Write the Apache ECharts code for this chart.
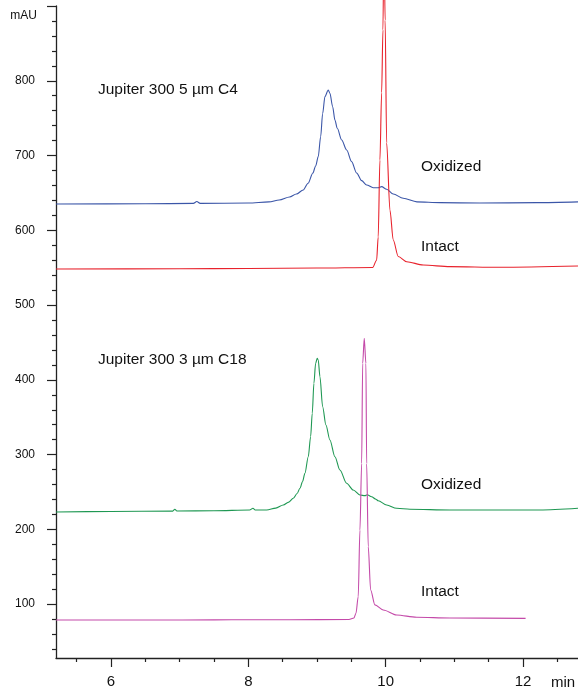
<!DOCTYPE html>
<html>
<head>
<meta charset="utf-8">
<title>Jupiter 300 chromatograms</title>
<script src="https://cdn.jsdelivr.net/npm/echarts@6/dist/echarts.min.js"></script>
<style>
  html, body { margin: 0; padding: 0; background: #fff; }
  #main { width: 578px; height: 691px; }
</style>
</head>
<body>
<div id="main"></div>
<script>
// retention time (min) / absorbance (mAU)

// Jupiter 300 5 um C4 - oxidized
var c4Oxidized = [
    [5.2, 635.2], [6.5, 635.5], [7.2, 636], [7.25, 638.5], [7.3, 636], [8.0, 636.5],
    [8.3, 638], [8.45, 640.5], [8.6, 644.6], [8.7, 648.5], [8.8, 654], [8.87, 663],
    [8.94, 676.7], [8.98, 686], [9.018, 698.5], [9.053, 725], [9.082, 756], [9.116, 779],
    [9.164, 787.7], [9.188, 783.3], [9.228, 765.3], [9.261, 747.5], [9.295, 736.4],
    [9.359, 720.8], [9.432, 707.4], [9.504, 691.8], [9.577, 676.7], [9.65, 666.4],
    [9.723, 660.6], [9.819, 657], [9.891, 657], [9.941, 658.4], [10.014, 654.9],
    [10.11, 648.6], [10.255, 642.8], [10.455, 638], [10.79, 637], [11.37, 636.5],
    [12.2, 637], [12.8, 638]
];

// Jupiter 300 5 um C4 - intact (peak runs off the top)
var c4Intact = [
    [5.2, 548.3], [7.0, 548.5], [8.0, 549], [9.0, 549.5], [9.81, 550.3], [9.868, 560],
    [9.891, 591], [9.916, 694], [9.941, 784], [9.96, 868], [9.975, 1000], [9.992, 881],
    [10.014, 717], [10.062, 627], [10.11, 587], [10.183, 565], [10.305, 558],
    [10.547, 553.6], [10.935, 551.4], [11.66, 550.6], [12.8, 552.3]
];

// Jupiter 300 3 um C18 - oxidized
var c18Oxidized = [
    [5.2, 223.3], [6.0, 224], [6.9, 224.5], [6.93, 227], [6.96, 224.6], [7.5, 225],
    [8.02, 225.9], [8.068, 228.2], [8.1, 226], [8.267, 225.9], [8.4, 228.5],
    [8.509, 232.6], [8.59, 236.5], [8.654, 241.6], [8.71, 248], [8.752, 255],
    [8.79, 264], [8.824, 275], [8.873, 297.2], [8.907, 324], [8.931, 355.3],
    [8.955, 395.4], [8.98, 422.1], [9.003, 428.8], [9.018, 426.6], [9.043, 404.2],
    [9.082, 364.1], [9.13, 339.6], [9.188, 319.6], [9.261, 297.2], [9.334, 279.4],
    [9.431, 261.7], [9.527, 252.7], [9.625, 246], [9.698, 245.1], [9.731, 246.4],
    [9.795, 243.7], [9.858, 240.3], [9.891, 238.4], [10.014, 232.6], [10.159, 228.2],
    [10.353, 226.9], [10.935, 225.9], [11.6, 225.9], [12.245, 225.9], [12.8, 228.2]
];

// Jupiter 300 3 um C18 - intact
var c18Intact = [
    [5.2, 78.8], [6.57, 78.8], [7.5, 79], [8.02, 79.2], [8.6, 79.2], [9.465, 79.5],
    [9.538, 81.5], [9.567, 87.8], [9.6, 110], [9.625, 199], [9.65, 288], [9.665, 422],
    [9.688, 455.6], [9.712, 422], [9.723, 288], [9.746, 177], [9.781, 119], [9.843, 99],
    [9.964, 92.2], [10.159, 85.5], [10.45, 82.4], [10.935, 81.5], [12.037, 81]
];

// axis ticks
var xMajor = [6, 8, 10, 12];
var xMinor = [5.5, 6.5, 7, 7.5, 8.5, 9, 9.5, 10.5, 11, 11.5, 12.5];
var yLabels = [100, 200, 300, 400, 500, 600, 700, 800];
var yMajor = [100, 200, 300, 400, 500, 600, 700, 800, 900];
var yMinor = [];
for (var v = 40; v < 900; v += 20) {
    if (v % 100 !== 0) yMinor.push(v);
}

var labelFont = "'Liberation Sans', Arial, sans-serif";
var axisColor = '#222';

var chart = echarts.init(document.getElementById('main'));

function trace(data, color) {
    return {
        type: 'line',
        data: data,
        showSymbol: false,
        clip: false,
        smooth: 0.3,
        smoothMonotone: 'x',
        lineStyle: { color: color, width: 1.1 },
        emphasis: { disabled: true },
        animation: false
    };
}

// free text, y is the middle of the caps
function note(text, x, y, size, align) {
    return {
        type: 'text',
        x: x,
        y: y,
        style: {
            text: text,
            font: (size || 15.5) + 'px ' + labelFont,
            fill: '#111',
            align: align || 'left',
            verticalAlign: 'middle'
        }
    };
}

var option = {
    backgroundColor: '#fff',
    animation: false,
    grid: { left: 56, right: 0, top: 6, bottom: 33 },
    xAxis: [{
        type: 'value',
        min: 5.2,
        max: 12.8,
        position: 'bottom',
        axisLine: { lineStyle: { color: axisColor, width: 1.3 } },
        axisTick: { customValues: xMajor, length: 9, lineStyle: { color: axisColor, width: 1.2 } },
        axisLabel: { customValues: xMajor, fontSize: 15, margin: 16, color: '#111', fontFamily: labelFont },
        splitLine: { show: false }
    }, {
        type: 'value',
        min: 5.2,
        max: 12.8,
        position: 'bottom',
        axisLine: { show: false },
        axisTick: { customValues: xMinor, length: 4, lineStyle: { color: axisColor, width: 1.2 } },
        axisLabel: { show: false },
        splitLine: { show: false }
    }],
    yAxis: [{
        type: 'value',
        min: 28,
        max: 900,
        position: 'left',
        axisLine: { show: true, lineStyle: { color: axisColor, width: 1.3 } },
        axisTick: { show: true, customValues: yMajor, length: 9, lineStyle: { color: axisColor, width: 1.2 } },
        axisLabel: { customValues: yLabels, fontSize: 12, margin: 21, color: '#111', fontFamily: labelFont },
        splitLine: { show: false }
    }, {
        type: 'value',
        min: 28,
        max: 900,
        position: 'left',
        offset: 0,
        axisLine: { show: false },
        axisTick: { show: true, customValues: yMinor, length: 4, lineStyle: { color: axisColor, width: 1.2 } },
        axisLabel: { show: false },
        splitLine: { show: false }
    }],
    series: [
        trace(c4Oxidized, '#3b56a8'),
        trace(c4Intact, '#e8222c'),
        trace(c18Oxidized, '#1f9853'),
        trace(c18Intact, '#c44aa9')
    ],
    graphic: [
        note('mAU', 37, 16, 12, 'right'),
        note('min', 563, 683, 15, 'center'),
        note('Jupiter 300 5 \u00b5m C4', 98, 89.5),
        note('Oxidized', 421, 166.5),
        note('Intact', 421, 247),
        note('Jupiter 300 3 \u00b5m C18', 98, 360),
        note('Oxidized', 421, 485),
        note('Intact', 421, 592)
    ]
};

chart.setOption(option);
</script>
</body>
</html>
